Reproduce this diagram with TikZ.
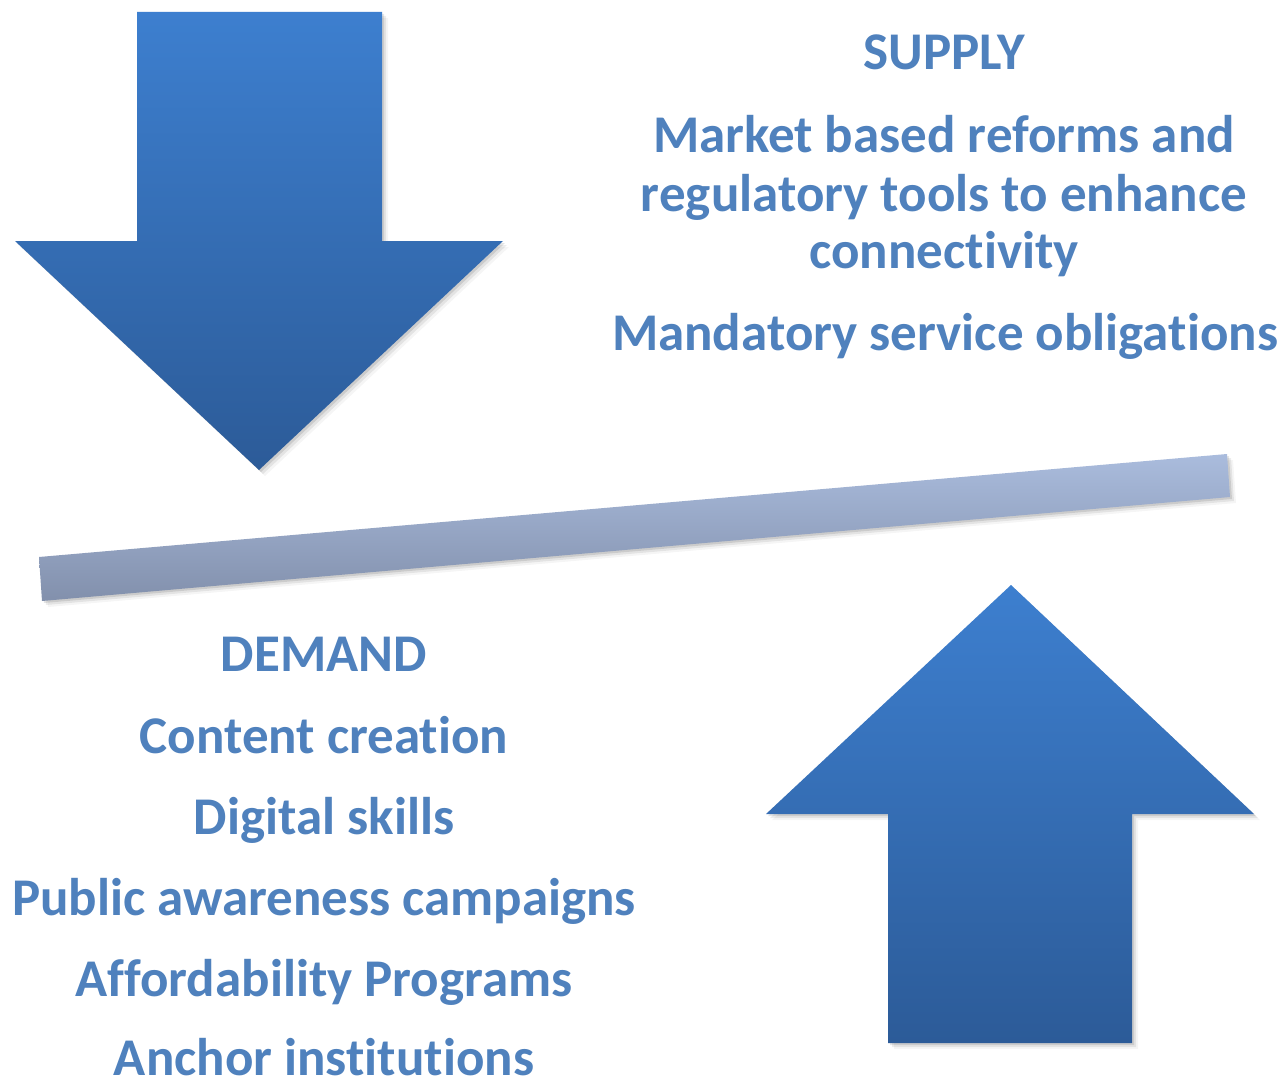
\documentclass[tikz,border=0pt]{standalone}
\usepackage{fontspec}
\setmainfont{Carlito}[RawFeature={-liga;-clig;-calt;-dlig}]
\definecolor{txtblue}{HTML}{4F81BD}
\definecolor{arrtop}{HTML}{3D7FCF}
\definecolor{arrbot}{HTML}{2C5B98}
\definecolor{bartop}{HTML}{AABCDD}
\definecolor{barbot}{HTML}{8290AC}
\tikzset{
  lbl/.style={anchor=base, inner sep=0pt, text depth=0pt, text=txtblue, font=\fontsize{53}{64}\selectfont\bfseries},
  arrowfill/.style={top color=arrtop, bottom color=arrbot, draw=none},
  barfill/.style={top color=bartop, bottom color=barbot, draw=none}
}
\begin{document}
\begin{tikzpicture}[x=1pt,y=-1pt]
\useasboundingbox[fill=white] (0,0) rectangle (1283,1081);

% shadows
\foreach \d/\o in {2/0.10,4/0.07,6/0.04}{
  \fill[black, opacity=\o] (137+\d,12+\d) -- (382+\d,12+\d) -- (382+\d,241+\d) -- (503+\d,241+\d) -- (259+\d,470+\d) -- (15+\d,241+\d) -- (137+\d,241+\d) -- cycle;
  \fill[black, opacity=\o] (1011+\d,585+\d) -- (1254+\d,814+\d) -- (1132+\d,814+\d) -- (1132+\d,1043+\d) -- (888+\d,1043+\d) -- (888+\d,814+\d) -- (766+\d,814+\d) -- cycle;
  \fill[black, opacity=\o] (39+\d,557+\d) -- (1227+\d,454+\d) -- (1230+\d,497+\d) -- (42+\d,601+\d) -- cycle;
}

% down arrow (supply)
\path[arrowfill] (137,12) -- (382,12) -- (382,241) -- (503,241) -- (259,470) -- (15,241) -- (137,241) -- cycle;
\coordinate (downtip) at (259,470);

% up arrow (demand)
\path[arrowfill] (1011,585) -- (1254,814) -- (1132,814) -- (1132,1043) -- (888,1043) -- (888,814) -- (766,814) -- cycle;
\coordinate (uptip) at (1011,585);

% balance bar
\path[barfill] (39,557) -- (1227,454) -- (1230,497) -- (42,601) -- cycle;

% supply text
\node[lbl] (supply) at (944,70) {SUPPLY};
\node[lbl] (s1) at (944,152) {Market based reforms and};
\node[lbl] (s2) at (944,211) {regulatory tools to enhance};
\node[lbl] (s3) at (944,268) {connectivity};
\node[lbl] (s4) at (945,350) {Mandatory service obligations};

% demand text
\node[lbl] (demand) at (324,671) {DEMAND};
\node[lbl] (d1) at (324,753) {Content creation};
\node[lbl] (d2) at (324,834) {Digital skills};
\node[lbl] (d3) at (324,915) {Public awareness campaigns};
\node[lbl] (d4) at (324,996) {Affordability Programs};
\node[lbl] (d5) at (324,1075) {Anchor institutions};
\end{tikzpicture}
\end{document}
